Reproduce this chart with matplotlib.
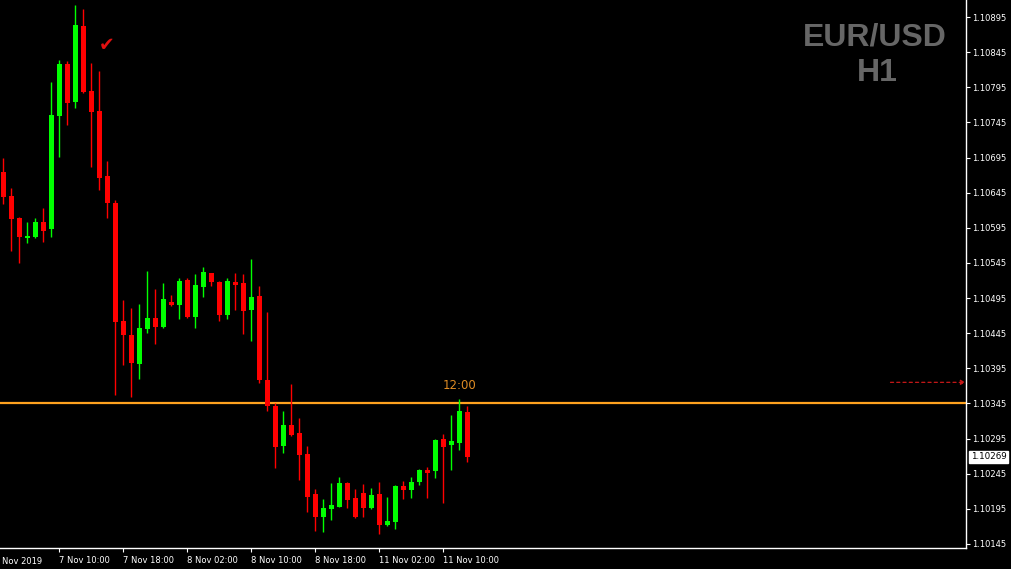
import matplotlib
matplotlib.use("Agg")
import matplotlib.pyplot as plt
import numpy as np

# EUR/USD H1 candles, 7 Nov 03:00 -> 11 Nov 13:00
opens = [1.10674, 1.10640, 1.10609, 1.10580, 1.10582, 1.10603, 1.10593, 1.10754,
         1.10828, 1.10774, 1.10882, 1.10790, 1.10761, 1.10668, 1.10630, 1.10462,
         1.10442, 1.10401, 1.10451, 1.10467, 1.10454, 1.10489, 1.10485, 1.10521,
         1.10468, 1.10511, 1.10530, 1.10518, 1.10471, 1.10518, 1.10516, 1.10478,
         1.10498, 1.10378, 1.10341, 1.10284, 1.10314, 1.10303, 1.10273, 1.10216,
         1.10184, 1.10195, 1.10198, 1.10232, 1.10210, 1.10217, 1.10196, 1.10216,
         1.10172, 1.10176, 1.10228, 1.10222, 1.10233, 1.10250, 1.10249, 1.10294,
         1.10286, 1.10289, 1.10333]
highs = [1.10694, 1.10652, 1.10610, 1.10603, 1.10609, 1.10623, 1.10802, 1.10834,
         1.10832, 1.10912, 1.10906, 1.10830, 1.10818, 1.10690, 1.10634, 1.10492,
         1.10481, 1.10487, 1.10534, 1.10508, 1.10517, 1.10499, 1.10524, 1.10524,
         1.10529, 1.10539, 1.10531, 1.10519, 1.10524, 1.10531, 1.10529, 1.10551,
         1.10512, 1.10475, 1.10346, 1.10334, 1.10372, 1.10324, 1.10284, 1.10223,
         1.10209, 1.10232, 1.10240, 1.10233, 1.10223, 1.10231, 1.10225, 1.10233,
         1.10212, 1.10229, 1.10235, 1.10240, 1.10252, 1.10255, 1.10294, 1.10302,
         1.10328, 1.10351, 1.10341]
lows = [1.10629, 1.10562, 1.10545, 1.10573, 1.10581, 1.10575, 1.10582, 1.10696,
        1.10741, 1.10766, 1.10787, 1.10682, 1.10649, 1.10609, 1.10357, 1.10400,
        1.10354, 1.10380, 1.10445, 1.10430, 1.10453, 1.10484, 1.10465, 1.10467,
        1.10452, 1.10497, 1.10512, 1.10462, 1.10465, 1.10478, 1.10444, 1.10434,
        1.10374, 1.10334, 1.10253, 1.10274, 1.10299, 1.10236, 1.10190, 1.10163,
        1.10162, 1.10179, 1.10197, 1.10196, 1.10182, 1.10184, 1.10195, 1.10159,
        1.10171, 1.10166, 1.10209, 1.10210, 1.10229, 1.10210, 1.10239, 1.10203,
        1.10250, 1.10279, 1.10262]
closes = [1.10639, 1.10608, 1.10582, 1.10583, 1.10603, 1.10590, 1.10756, 1.10828,
          1.10773, 1.10884, 1.10788, 1.10760, 1.10666, 1.10630, 1.10461, 1.10442,
          1.10403, 1.10452, 1.10467, 1.10454, 1.10494, 1.10485, 1.10519, 1.10468,
          1.10513, 1.10532, 1.10518, 1.10471, 1.10519, 1.10513, 1.10477, 1.10497,
          1.10378, 1.10341, 1.10283, 1.10314, 1.10300, 1.10271, 1.10212, 1.10184,
          1.10196, 1.10201, 1.10232, 1.10207, 1.10184, 1.10196, 1.10215, 1.10172,
          1.10178, 1.10228, 1.10222, 1.10233, 1.10250, 1.10246, 1.10293, 1.10283,
          1.10291, 1.10334, 1.10269]

tick_pos = [7, 15, 23, 31, 39, 47, 55]
tick_labels = ["7 Nov 10:00", "7 Nov 18:00", "8 Nov 02:00", "8 Nov 10:00",
               "8 Nov 18:00", "11 Nov 02:00", "11 Nov 10:00"]
first_label = "7 Nov 2019"
price_ticks = [1.10145, 1.10195, 1.10245, 1.10295, 1.10345, 1.10395, 1.10445,
               1.10495, 1.10545, 1.10595, 1.10645, 1.10695, 1.10745, 1.10795,
               1.10845, 1.10895]
level_price = 1.10345
arrow_price = 1.10375
marked_bar = 57

UP = "#00FF00"
DOWN = "#FF0000"

W, H = 1012, 569
fig = plt.figure(figsize=(W / 100, H / 100), dpi=100, facecolor="black")
ax = fig.add_axes([0, 21 / H, 966 / W, 548 / H], facecolor="black")

x = np.arange(len(opens))
o = np.array(opens)
c = np.array(closes)
colors = [UP if cc >= oo else DOWN for oo, cc in zip(o, c)]

# wicks then bodies
ax.vlines(x, lows, highs, colors=colors, linewidth=1, zorder=2)
body_h = np.maximum(np.abs(c - o), 0.000012)
ax.bar(x, body_h, bottom=np.minimum(o, c), width=0.62, color=colors,
       linewidth=0, zorder=3)

# orange level line + time label
ax.axhline(level_price, color="#FFA21F", linewidth=1.6, zorder=1)
ax.text(marked_bar, 1.10371, "12:00", color="#E08C24", fontsize=8.5,
        ha="center", va="center")

# dashed arrow on the right
ax.annotate("", xy=(120.3, arrow_price), xytext=(110.9, arrow_price),
            arrowprops=dict(arrowstyle="-|>", color="#C81818", lw=0.9,
                            linestyle=(0, (2.5, 2.5)), mutation_scale=7,
                            shrinkA=0, shrinkB=0))

ax.set_xlim(-0.4125, 120.34)
ax.set_ylim(1.101392, 1.109192)

# axes look
for side in ["top", "left"]:
    ax.spines[side].set_visible(False)
for side in ["right", "bottom"]:
    ax.spines[side].set_color("white")
    ax.spines[side].set_linewidth(1)

ax.yaxis.tick_right()
ax.set_yticks(price_ticks)
ax.set_yticklabels([f"{p:.5f}" for p in price_ticks])
ax.tick_params(axis="y", colors="white", labelsize=6, length=3, pad=1.5,
               labelcolor="white")
ax.set_xticks(tick_pos)
ax.set_xticklabels(tick_labels)
ax.tick_params(axis="x", colors="white", labelsize=6, length=3, pad=3,
               labelcolor="white")
for lbl in ax.get_xticklabels():
    lbl.set_horizontalalignment("left")
ax.text(-1.15, -0.017, first_label, transform=ax.get_xaxis_transform(),
        color="white", fontsize=6, ha="left", va="top", clip_on=False)

# current price box
ax.annotate(f"{closes[-1]:.5f}", xy=(1.005, closes[-1]),
            xycoords=("axes fraction", "data"), color="black", fontsize=6.3,
            ha="left", va="center", annotation_clip=False,
            bbox=dict(boxstyle="square,pad=0.2", fc="white", ec="white"))

# symbol watermark and check mark
fig.text(875 / W, 1 - 37 / H, "EUR/USD", color="#666666", fontsize=23,
         fontweight="bold", family="Liberation Sans", ha="center", va="center")
fig.text(877 / W, 1 - 73 / H, "H1", color="#666666", fontsize=23,
         fontweight="bold", family="Liberation Sans", ha="center", va="center")
ax.text(12.96, 1.10854, "\u2714", color="#E01010", fontsize=13.5,
        ha="center", va="center")

fig.savefig("out.png", dpi=100, facecolor="black")
